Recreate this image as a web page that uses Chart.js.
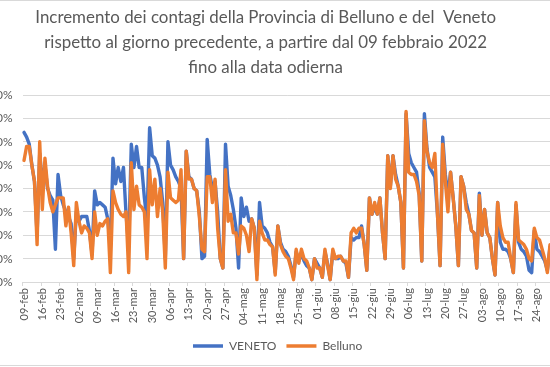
<!DOCTYPE html>
<html><head><meta charset="utf-8">
<script src="https://cdn.jsdelivr.net/npm/chart.js@4/dist/chart.umd.min.js"></script>
<style>
html,body{margin:0;padding:0;background:#fff;overflow:hidden;width:550px;height:367px;}
#wrap{position:absolute;left:-20px;top:0;width:600px;height:367px;}
</style></head><body>
<div id="wrap"><canvas id="c"></canvas></div>
<script>
// ---- data ----
const titleLines = [
  'Incremento dei contagi della Provincia di Belluno e del  Veneto',
  'rispetto al giorno precedente, a partire dal 09 febbraio 2022',
  'fino alla data odierna'
];
const monthNames = ['gen','feb','mar','apr','mag','giu','lug','ago','set','ott','nov','dic'];
const categories = [];
for (let i = 0; i < 202; i++) {
  const d = new Date(2022, 1, 9 + i);
  categories.push(String(d.getDate()).padStart(2, '0') + '-' + monthNames[d.getMonth()]);
}
const seriesNames = ['VENETO', 'Belluno'];
const venetoValues = [
0.64,0.62,0.59,0.50,0.43,0.20,0.55,
0.42,0.50,0.40,0.37,0.35,0.14,0.46,
0.37,0.33,0.30,0.28,0.25,0.10,0.30,
0.26,0.28,0.28,0.28,0.22,0.12,0.39,
0.33,0.34,0.33,0.32,0.27,0.15,0.53,
0.42,0.49,0.43,0.49,0.29,0.15,0.59,
0.49,0.58,0.49,0.49,0.36,0.26,0.66,
0.54,0.53,0.50,0.45,0.34,0.10,0.60,
0.50,0.48,0.45,0.43,0.40,0.10,0.56,
0.45,0.44,0.40,0.39,0.30,0.10,0.11,
0.61,0.46,0.40,0.43,0.30,0.10,0.06,
0.59,0.41,0.37,0.31,0.23,0.06,0.36,
0.28,0.32,0.26,0.27,0.23,0.03,0.34,
0.24,0.23,0.21,0.17,0.15,0.04,0.24,
0.17,0.14,0.13,0.11,0.07,0.02,0.13,
0.09,0.12,0.09,0.07,0.06,0.01,0.10,
0.08,0.06,0.02,0.13,0.08,0.01,0.13,
0.10,0.10,0.11,0.09,0.08,0.02,0.19,
0.18,0.19,0.19,0.24,0.16,0.05,0.36,
0.29,0.32,0.29,0.36,0.21,0.10,0.54,
0.41,0.54,0.46,0.41,0.34,0.06,0.72,
0.55,0.51,0.49,0.47,0.38,0.09,0.72,
0.57,0.49,0.47,0.45,0.29,0.07,0.62,
0.46,0.37,0.47,0.36,0.24,0.07,0.45,
0.41,0.34,0.29,0.22,0.21,0.06,0.38,
0.20,0.31,0.21,0.19,0.10,0.03,0.34,
0.17,0.14,0.14,0.13,0.10,0.04,0.33,
0.17,0.14,0.13,0.11,0.05,0.04,0.22,
0.14,0.13,0.11,0.09,0.05,0.15
];
const bellunoValues = [
0.52,0.58,0.58,0.50,0.43,0.16,0.60,
0.31,0.53,0.41,0.34,0.30,0.33,0.36,
0.36,0.36,0.24,0.32,0.21,0.07,0.34,
0.26,0.21,0.24,0.23,0.21,0.10,0.30,
0.20,0.25,0.24,0.26,0.27,0.04,0.39,
0.34,0.31,0.29,0.28,0.30,0.04,0.51,
0.31,0.41,0.33,0.32,0.30,0.10,0.48,
0.33,0.44,0.28,0.40,0.30,0.06,0.47,
0.36,0.35,0.34,0.35,0.48,0.10,0.56,
0.44,0.44,0.40,0.39,0.28,0.14,0.13,
0.45,0.45,0.34,0.44,0.23,0.10,0.06,
0.48,0.26,0.29,0.21,0.21,0.12,0.24,
0.23,0.20,0.13,0.27,0.23,0.01,0.26,
0.21,0.18,0.18,0.16,0.15,0.03,0.24,
0.16,0.13,0.11,0.10,0.06,0.01,0.14,
0.08,0.14,0.10,0.09,0.06,0.01,0.10,
0.06,0.06,0.02,0.14,0.07,0.01,0.14,
0.10,0.11,0.11,0.09,0.09,0.02,0.21,
0.23,0.21,0.23,0.23,0.16,0.05,0.36,
0.29,0.34,0.29,0.36,0.21,0.10,0.54,
0.40,0.54,0.44,0.41,0.34,0.06,0.73,
0.47,0.46,0.46,0.43,0.37,0.09,0.69,
0.56,0.51,0.49,0.55,0.29,0.07,0.59,
0.43,0.30,0.47,0.36,0.24,0.07,0.45,
0.41,0.31,0.29,0.22,0.21,0.06,0.37,
0.20,0.31,0.21,0.19,0.10,0.03,0.34,
0.24,0.19,0.17,0.17,0.10,0.04,0.34,
0.18,0.17,0.16,0.14,0.10,0.09,0.23,
0.19,0.18,0.14,0.10,0.04,0.16
];
const yMin = 0, yMax = 0.8, yStep = 0.1;
const tickEvery = 7;

// ---- styling ----
const FONT = 'Lato, "Open Sans", sans-serif';
const TEXT = '#595959';
const GRID = '#D9D9D9';

// fit title font to reference width
const mctx = document.createElement('canvas').getContext('2d');
mctx.font = '100px ' + FONT;
const titleSize = Math.round(100 * 461 / mctx.measureText(titleLines[0]).width * 10) / 10;

const borderPlugin = {
  id: 'frame',
  afterDraw(chart) {
    const c = chart.ctx;
    c.save();
    c.strokeStyle = GRID; c.lineWidth = 1;
    c.strokeRect(0.5, 0.5, chart.width - 1, chart.height - 2);
    c.restore();
  }
};
const legendShift = {
  id: 'legendShift',
  afterLayout(chart) { chart.legend.left += 12; chart.legend.right += 12; }
};

new Chart(document.getElementById('c'), {
  type: 'line',
  data: {
    labels: categories,
    datasets: [
      { label: seriesNames[1], data: bellunoValues, borderColor: '#ED7D31', backgroundColor: '#ED7D31', borderWidth: 3.4 },
      { label: seriesNames[0], data: venetoValues, borderColor: '#4472C4', backgroundColor: '#4472C4', borderWidth: 3.4 }
    ]
  },
  options: {
    responsive: true, maintainAspectRatio: false, animation: false, devicePixelRatio: 1,
    layout: { padding: { left: 0, right: 28.7, top: 0, bottom: 5 } },
    elements: {
      point: { radius: 0, hoverRadius: 0 },
      line: { tension: 0, borderJoinStyle: 'round', borderCapStyle: 'round' }
    },
    plugins: {
      tooltip: { enabled: false },
      title: {
        display: true, text: titleLines, color: TEXT,
        font: { family: FONT, size: titleSize, weight: 'normal', lineHeight: '25px' },
        padding: { top: 5.5, bottom: 14.5 }
      },
      legend: {
        position: 'bottom', reverse: true,
        labels: {
          color: TEXT, font: { family: FONT, size: 12 }, padding: 10,
          usePointStyle: true, pointStyle: 'line', pointStyleWidth: 30, boxHeight: 12
        }
      }
    },
    scales: {
      x: {
        offset: true,
        grid: {
          offset: true, drawOnChartArea: false, drawTicks: true, tickLength: 4,
          color: (ctx) => (ctx.index % tickEvery === 0 ? GRID : 'rgba(0,0,0,0)')
        },
        border: { display: true, color: GRID },
        ticks: {
          autoSkip: false, maxRotation: 90, minRotation: 90, padding: 2,
          color: TEXT, font: { family: FONT, size: 11 },
          callback: (v, i) => (i % tickEvery === 0 ? categories[i] : '')
        },
        afterFit: (s) => { s.height = 48; }
      },
      y: {
        min: yMin, max: yMax,
        grid: { color: GRID, drawTicks: false },
        border: { display: false },
        ticks: {
          stepSize: yStep, padding: 10, color: TEXT, font: { family: FONT, size: 12 },
          callback: (v) => v.toFixed(2).replace('.', ',') + '%'
        },
        afterFit: (s) => { s.width = 42.7; }
      }
    }
  },
  plugins: [borderPlugin, legendShift]
});
</script>
</body></html>
